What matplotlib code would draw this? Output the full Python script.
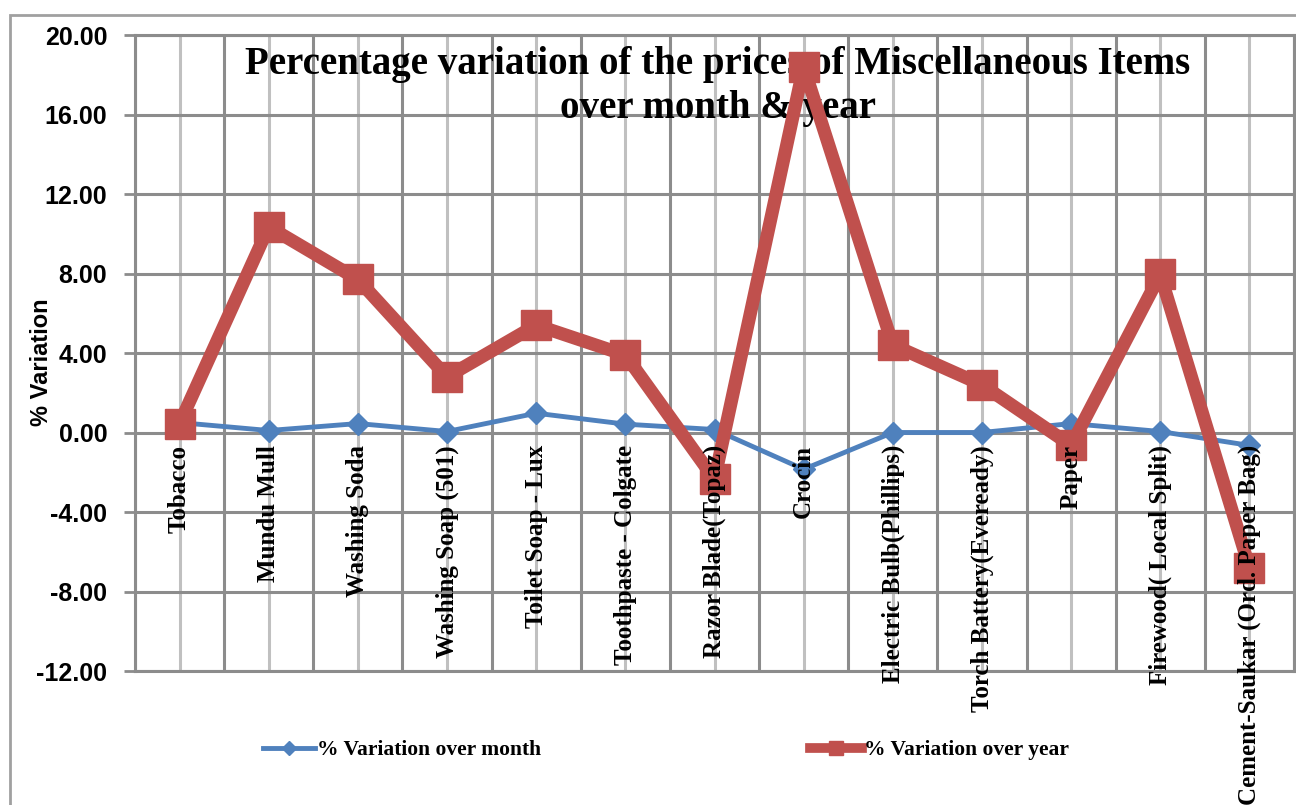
import matplotlib
matplotlib.use("Agg")
import matplotlib.pyplot as plt
from matplotlib.lines import Line2D
from matplotlib.patches import Rectangle

items = ["Tobacco", "Mundu Mull", "Washing Soda", "Washing Soap (501)",
         "Toilet Soap - Lux", "Toothpaste - Colgate", "Razor Blade(Topaz)",
         "Crocin", "Electric Bulb(Phillips)", "Torch Battery(Eveready)",
         "Paper", "Firewood( Local Split)", "Cement-Saukar (Ord. Paper Bag)"]
over_month = [0.50, 0.10, 0.45, 0.05, 0.97, 0.42, 0.15, -1.85, 0.00, 0.00, 0.45, 0.05, -0.65]
over_year = [0.45, 10.35, 7.70, 2.80, 5.40, 3.90, -2.35, 18.40, 4.40, 2.40, -0.65, 7.95, -6.80]
yticks = [-12, -8, -4, 0, 4, 8, 12, 16, 20]

blue = "#4F81BD"
red = "#C0504D"
dark = "#8C8C8C"
light = "#C0C0C0"

fig = plt.figure(figsize=(12.96, 8.05), dpi=100)
ax = fig.add_axes([135/1296, 1-671/805, (1294-135)/1296, (671-35)/805])

n = len(items)
x = list(range(n))

# gridlines: dark at category borders, light at category centres
for i in range(n + 1):
    ax.axvline(i - 0.5, color=dark, lw=2.2, zorder=1)
for i in x:
    ax.axvline(i, color=light, lw=2.2, zorder=1)
for v in yticks:
    ax.axhline(v, color=dark, lw=2.2, zorder=1)

ax.plot(x, over_month, color=blue, lw=3.5, marker="D", ms=11,
        mec=blue, mfc=blue, zorder=3, label="% Variation over month")
ax.plot(x, over_year, color=red, lw=9.5, marker="s", ms=22,
        mec=red, mfc=red, zorder=4, label="% Variation over year")

ax.set_xlim(-0.5, n - 0.5)
ax.set_ylim(-12, 20)
ax.set_yticks(yticks)
ax.set_yticklabels(["%.2f" % v for v in yticks], fontsize=18,
                   fontweight="bold", family="Liberation Sans")
ax.tick_params(axis="y", length=8, width=2, color=dark, pad=12)
ax.set_xticks([])
for s in ax.spines.values():
    s.set_color(dark)
    s.set_linewidth(2.2)

ax.text(-0.081, 0.486, "% Variation", transform=ax.transAxes, rotation=90,
        ha="center", va="center", fontsize=17, fontweight="bold",
        family="Liberation Sans")

for i, lab in enumerate(items):
    ax.annotate(lab, xy=(i, 0), xytext=(0, -9), textcoords="offset points",
                rotation=90, ha="center", va="top", fontsize=18,
                fontweight="bold", family="Liberation Serif",
                annotation_clip=False, zorder=5)

ax.text(0.503, 0.982, "Percentage variation of the prices of Miscellaneous Items\nover month & year",
        transform=ax.transAxes, ha="center", va="top", fontsize=28,
        fontweight="bold", family="Liberation Serif", linespacing=1.22, zorder=2)

h1 = Line2D([], [], color=blue, lw=3.5, marker="D", ms=7)
h2 = Line2D([], [], color=red, lw=7, marker="s", ms=10)
fig.legend([h1, h2], ["% Variation over month", "% Variation over year"],
           loc="center", bbox_to_anchor=(666/1296, 1-750/805), ncol=2,
           frameon=False, columnspacing=12.5, handlelength=2.4, handletextpad=0.1,
           prop={"family": "Liberation Serif", "weight": "bold", "size": 15.5})

fig.patches.append(Rectangle((10/1296, -0.01), 1.1, 1-15/805 + 0.01,
                             transform=fig.transFigure, fill=False,
                             edgecolor="#A0A0A0", lw=2, clip_on=False))

fig.savefig("out.png", dpi=100)
